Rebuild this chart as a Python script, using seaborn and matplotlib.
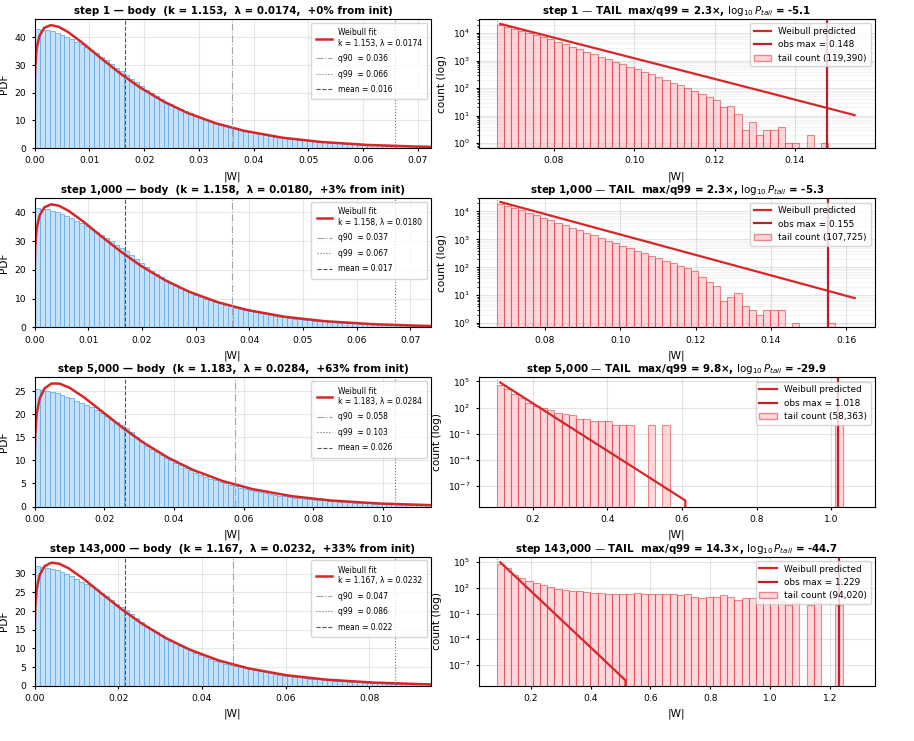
import numpy as np
import pandas as pd
import matplotlib
matplotlib.use("Agg")
import matplotlib.pyplot as plt
import seaborn as sns
from matplotlib.lines import Line2D
from matplotlib.patches import Patch

# ---- panel metadata ----
steps = ["1", "1,000", "5,000", "143,000"]
k_fit = ["1.153", "1.158", "1.183", "1.167"]
lam_fit = ["0.0174", "0.0180", "0.0284", "0.0232"]
drift_pct = ["+0%", "+3%", "+63%", "+33%"]
q90 = [0.0360, 0.0368, 0.0576, 0.0474]
q99 = [0.0658, 0.0672, 0.1034, 0.0862]
mean_w = [0.0164, 0.0168, 0.0259, 0.0216]
obs_max = [0.148, 0.155, 1.018, 1.229]
max_over_q99 = ["2.3", "2.3", "9.8", "14.3"]
log10_p_tail = ["-5.1", "-5.3", "-29.9", "-44.7"]
tail_total = ["119,390", "107,725", "58,363", "94,020"]
body_xmax = [0.0724, 0.0739, 0.1139, 0.0948]
tail_hi = [0.1554, 0.1628, 1.0689, 1.2905]

# ---- body histograms (PDF, 80 bins on [0, body_xmax]) ----
body_pdf_1 = [43.0, 42.8, 42.5, 42.1, 41.5, 40.8, 40.1, 39.3, 38.4, 37.4,
              36.4, 35.5, 34.3, 33.0, 31.8, 30.5, 29.0, 27.8, 26.5, 25.1,
              23.8, 22.4, 21.0, 19.9, 18.8, 17.8, 16.8, 15.8, 15.0, 14.1,
              13.3, 12.6, 11.7, 11.0, 10.4, 9.7, 9.1, 8.6, 8.0, 7.55,
              7.1, 6.56, 6.2, 5.8, 5.42, 5.09, 4.76, 4.46, 4.15, 3.88,
              3.63, 3.40, 3.17, 2.98, 2.78, 2.60, 2.45, 2.30, 2.15, 2.0,
              1.85, 1.74, 1.64, 1.53, 1.43, 1.31, 1.22, 1.14, 1.07, 1.0,
              0.93, 0.86, 0.80, 0.75, 0.70, 0.65, 0.60, 0.56, 0.52, 0.48]
body_pdf_2 = [41.5, 41.3, 41.0, 40.6, 40.0, 39.4, 38.7, 37.9, 37.1, 36.1,
              35.1, 34.3, 33.3, 32.1, 31.2, 30.0, 28.7, 27.5, 26.4, 25.0,
              23.7, 22.3, 20.9, 19.7, 18.5, 17.4, 16.4, 15.4, 14.6, 13.7,
              12.9, 12.2, 11.3, 10.6, 10.0, 9.4, 8.8, 8.3, 7.7, 7.3,
              6.85, 6.33, 5.98, 5.6, 5.23, 4.91, 4.59, 4.3, 4.0, 3.74,
              3.5, 3.28, 3.06, 2.88, 2.68, 2.51, 2.36, 2.22, 2.07, 1.93,
              1.79, 1.68, 1.58, 1.48, 1.38, 1.26, 1.18, 1.1, 1.03, 0.97,
              0.9, 0.83, 0.77, 0.72, 0.68, 0.63, 0.58, 0.54, 0.5, 0.46]
body_pdf_3 = [25.4, 25.3, 25.1, 24.9, 24.6, 24.2, 23.8, 23.4, 22.9, 22.4,
              22.0, 21.5, 20.9, 20.3, 19.6, 18.9, 18.3, 17.6, 16.9, 16.1,
              15.0, 14.1, 13.2, 12.5, 11.8, 11.2, 10.6, 10.0, 9.45, 8.9,
              8.3, 7.9, 7.3, 6.9, 6.5, 6.06, 5.69, 5.38, 5.0, 4.72,
              4.37, 4.03, 3.8, 3.55, 3.3, 3.1, 2.9, 2.7, 2.5, 2.33,
              2.22, 2.08, 1.94, 1.82, 1.7, 1.59, 1.49, 1.4, 1.31, 1.22,
              1.11, 1.04, 0.98, 0.91, 0.85, 0.78, 0.72, 0.67, 0.62, 0.58,
              0.53, 0.49, 0.455, 0.425, 0.395, 0.365, 0.34, 0.315, 0.29, 0.27]
body_pdf_4 = [32.0, 31.8, 31.6, 31.3, 30.9, 30.4, 29.9, 29.3, 28.6, 27.9,
              27.3, 26.6, 25.8, 24.9, 24.0, 23.1, 22.0, 21.1, 20.2, 19.1,
              18.1, 17.0, 16.0, 15.1, 14.3, 13.5, 12.8, 12.0, 11.4, 10.7,
              10.0, 9.5, 8.8, 8.2, 7.75, 7.2, 6.75, 6.38, 5.9, 5.57,
              5.4, 4.98, 4.7, 4.4, 4.1, 3.85, 3.6, 3.37, 3.13, 2.92,
              2.72, 2.55, 2.37, 2.22, 2.06, 1.92, 1.8, 1.68, 1.56, 1.44,
              1.31, 1.23, 1.16, 1.08, 1.0, 0.92, 0.86, 0.8, 0.75, 0.7,
              0.64, 0.59, 0.55, 0.52, 0.48, 0.45, 0.41, 0.39, 0.36, 0.33]
body_pdf = [body_pdf_1, body_pdf_2, body_pdf_3, body_pdf_4]

# ---- Weibull fit curves ----
fit_x_1 = [0, 0.0000174, 0.000087, 0.000348, 0.00087, 0.00174, 0.002958, 0.00435, 0.00609, 0.0087,
           0.01218, 0.01566, 0.01914, 0.02349, 0.02784, 0.03306, 0.03828, 0.04524, 0.0522, 0.0609,
           0.0696, 0.07482]
fit_y_1 = [0, 23.02, 29.40, 36.03, 40.59, 43.43, 44.39, 43.79, 41.89, 38.01,
           32.34, 26.90, 22.02, 16.88, 12.76, 8.98, 6.25, 3.78, 2.25, 1.157,
           0.583, 0.383]
fit_x_2 = [0, 0.000018, 0.00009, 0.00036, 0.0009, 0.0018, 0.00306, 0.0045, 0.0063, 0.009,
           0.0126, 0.0162, 0.0198, 0.0243, 0.0288, 0.0342, 0.0396, 0.0468, 0.054, 0.063,
           0.072, 0.0774]
fit_y_2 = [0, 21.63, 27.83, 34.32, 38.85, 41.71, 42.76, 42.27, 40.51, 36.83,
           31.38, 26.11, 21.38, 16.38, 12.37, 8.69, 6.03, 3.63, 2.156, 1.101,
           0.551, 0.361]
fit_x_3 = [0, 0.0000284, 0.000142, 0.000568, 0.00142, 0.00284, 0.004828, 0.0071, 0.00994, 0.0142,
           0.01988, 0.02556, 0.03124, 0.03834, 0.04544, 0.05396, 0.06248, 0.07384, 0.0852, 0.0994,
           0.1136, 0.12212]
fit_y_3 = [0, 11.76, 15.77, 20.16, 23.39, 25.60, 26.64, 26.62, 25.75, 23.62,
           20.25, 16.90, 13.84, 10.57, 7.94, 5.53, 3.79, 2.243, 1.299, 0.642,
           0.310, 0.198]
fit_x_4 = [0, 0.0000232, 0.000116, 0.000464, 0.00116, 0.00232, 0.003944, 0.0058, 0.00812, 0.0116,
           0.01624, 0.02088, 0.02552, 0.03132, 0.03712, 0.04408, 0.05104, 0.06032, 0.0696, 0.0812,
           0.0928, 0.09976]
fit_y_4 = [0, 15.93, 20.77, 25.93, 29.60, 31.99, 32.97, 32.72, 31.47, 28.70,
           24.50, 20.41, 16.72, 12.79, 9.64, 6.75, 4.66, 2.79, 1.642, 0.830,
           0.410, 0.266]
fit_x = [fit_x_1, fit_x_2, fit_x_3, fit_x_4]
fit_y = [fit_y_1, fit_y_2, fit_y_3, fit_y_4]

# ---- tail histograms (counts, 50 bins on [q99, tail_hi]) ----
tail_counts_1 = [19950, 16800, 14100, 11900, 10000, 8400, 7080, 5960, 4840, 3940,
                 3200, 2600, 2110, 1720, 1400, 1135, 920, 750, 610, 495,
                 400, 316, 251, 200, 158, 126, 100, 79, 62, 49,
                 37, 21, 22, 12, 3, 6, 2, 3, 3, 4,
                 1, 1, 0, 2, 0, 1, 0, 0, 0, 0]
tail_counts_2 = [19200, 16000, 13300, 11000, 9050, 7240, 6000, 4970, 4020, 3250,
                 2630, 2130, 1720, 1390, 1130, 912, 738, 597, 483, 391,
                 316, 257, 209, 170, 138, 112, 91, 74, 44, 30,
                 22, 6, 9, 12, 4, 3, 2, 3, 3, 3,
                 0, 1, 0, 0, 0, 0, 1, 0, 0, 0]
tail_counts_3 = [39960, 12500, 4000, 1200, 330, 150, 90, 55, 22, 20,
                 13, 5, 5, 3, 3, 3, 1, 1, 1, 0,
                 0, 1, 0, 1, 0, 0, 0, 0, 0, 0,
                 0, 0, 0, 0, 0, 0, 0, 0, 0, 0,
                 0, 0, 0, 0, 0, 0, 0, 1, 0, 0]
tail_counts_4 = [66000, 21000, 3464, 1500, 720, 350, 205, 120, 83, 63,
                 49, 45, 34, 28, 28, 22, 17, 17, 22, 28,
                 20, 17, 20, 22, 17, 14, 22, 9, 7, 9,
                 8, 14, 8, 4, 7, 6, 3, 6, 3, 3,
                 1, 2, 0, 1, 2, 0, 0, 1, 0, 0]
tail_counts = [tail_counts_1, tail_counts_2, tail_counts_3, tail_counts_4]

# ---- Weibull predicted tail counts (0 = underflow) ----
pred_x_1 = [0.0667, 0.0888, 0.1108, 0.1328, 0.1548]
pred_y_1 = [21900, 3240, 484, 72, 10.5]
pred_x_2 = [0.0682, 0.0917, 0.1152, 0.1387, 0.1622]
pred_y_2 = [21900, 3020, 417, 57.5, 7.9]
pred_x_3 = [0.1132, 0.2375, 0.3620, 0.4865, 0.6090, 0.6156, 1.0593]
pred_y_3 = [7.6e4, 30, 1.2e-2, 4.8e-6, 2.1e-9, 0, 0]
pred_x_4 = [0.0982, 0.2030, 0.3078, 0.4126, 0.5170, 0.5318, 1.2784]
pred_y_4 = [1.0e5, 35.5, 1.26e-2, 4.5e-6, 1.6e-9, 0, 0]
pred_x = [pred_x_1, pred_x_2, pred_x_3, pred_x_4]
pred_y = [pred_y_1, pred_y_2, pred_y_3, pred_y_4]

tail_ylim = [(0.66, 3.3e4), (0.71, 3.0e4), (4.3e-10, 3e5), (3.8e-10, 4.6e5)]

# ---- style ----
plt.rcParams.update({
    "font.family": "DejaVu Sans",
    "xtick.labelsize": 6.6,
    "ytick.labelsize": 6.6,
    "axes.labelsize": 7.6,
    "axes.titlesize": 7.4,
    "axes.titleweight": "bold",
    "axes.titlepad": 3.5,
    "xtick.major.size": 2.5,
    "ytick.major.size": 2.5,
    "xtick.minor.size": 1.5,
    "ytick.minor.size": 1.5,
    "axes.linewidth": 0.8,
})
RED = "#d62728"
DARKRED = "#b8202a"
BLUE_FACE = "#c4e1fa"
BLUE_EDGE = "#6aaee9"
PINK_FACE = (1.0, 0.69, 0.73, 0.5)
PINK_EDGE = (0.84, 0.15, 0.16, 0.5)

fig, axes = plt.subplots(4, 2, figsize=(9.14, 7.41), dpi=100)
fig.subplots_adjust(left=0.038, right=0.9573, top=0.9744, bottom=0.0746,
                    wspace=0.12, hspace=0.387)

for r in range(4):
    # body panel
    ax = axes[r, 0]
    bw = body_xmax[r] / 80
    df_body = pd.DataFrame({"w": bw * (np.arange(80) + 0.5), "pdf": body_pdf[r]})
    sns.histplot(data=df_body, x="w", weights="pdf", bins=80, binrange=(0, body_xmax[r]),
                 ax=ax, facecolor=BLUE_FACE, edgecolor=BLUE_EDGE, linewidth=0.6)
    sns.lineplot(x=fit_x[r], y=fit_y[r], ax=ax, color=RED, lw=1.8,
                 estimator=None, sort=False)
    ax.axvline(q90[r], ls="-.", color="#9aa6b4", lw=0.8)
    ax.axvline(q99[r], ls=":", color="#707070", lw=0.8)
    ax.axvline(mean_w[r], ls="--", color="#555555", lw=0.8)
    ax.set_xlim(0, body_xmax[r])
    ax.set_ylim(bottom=0)
    ax.grid(True, alpha=0.3)
    ax.set_axisbelow(True)
    ax.set_xlabel("|W|")
    ax.set_ylabel("PDF")
    ax.set_title(f"step {steps[r]} — body  (k = {k_fit[r]},  λ = {lam_fit[r]},  "
                 f"{drift_pct[r]} from init)")
    handles = [
        Line2D([], [], color=RED, lw=1.8, label=f"Weibull fit\nk = {k_fit[r]}, λ = {lam_fit[r]}"),
        Line2D([], [], color="#9aa6b4", ls="-.", lw=0.8, label=f"q90  = {q90[r]:.3f}"),
        Line2D([], [], color="#707070", ls=":", lw=0.8, label=f"q99  = {q99[r]:.3f}"),
        Line2D([], [], color="#555555", ls="--", lw=0.8, label=f"mean = {mean_w[r]:.3f}"),
    ]
    ax.legend(handles=handles, loc="upper right", fontsize=5.5, framealpha=0.8,
              borderpad=0.7, labelspacing=0.85)

    # tail panel
    ax = axes[r, 1]
    tw = (tail_hi[r] - q99[r]) / 50
    df_tail = pd.DataFrame({"w": q99[r] + tw * (np.arange(50) + 0.5), "n": tail_counts[r]})
    sns.histplot(data=df_tail, x="w", weights="n", bins=50, binrange=(q99[r], tail_hi[r]),
                 ax=ax, facecolor=PINK_FACE, edgecolor=PINK_EDGE, linewidth=0.8)
    sns.lineplot(x=pred_x[r], y=pred_y[r], ax=ax, color=RED, lw=1.6,
                 estimator=None, sort=False)
    ax.axvline(obs_max[r], color=DARKRED, lw=1.6)
    ax.axvline(q99[r], ls=":", color="#909090", lw=0.8)
    ax.set_yscale("log")
    ax.set_ylim(*tail_ylim[r])
    ax.grid(True, which="major", alpha=0.35)
    ax.grid(True, which="minor", alpha=0.15)
    ax.set_axisbelow(True)
    ax.set_xlabel("|W|")
    ax.set_ylabel("count (log)")
    ax.set_title(f"step {steps[r]} — TAIL  max/q99 = {max_over_q99[r]}×, "
                 f"$\\log_{{10}}P_{{tail}}$ = {log10_p_tail[r]}")
    handles = [
        Line2D([], [], color=RED, lw=1.6, label="Weibull predicted"),
        Line2D([], [], color=DARKRED, lw=1.6, label=f"obs max = {obs_max[r]:.3f}"),
        Patch(facecolor=PINK_FACE, edgecolor=PINK_EDGE, label=f"tail count ({tail_total[r]})"),
    ]
    ax.legend(handles=handles, loc="upper right", fontsize=6.4, framealpha=0.8)

fig.savefig("out.png", dpi=100)
